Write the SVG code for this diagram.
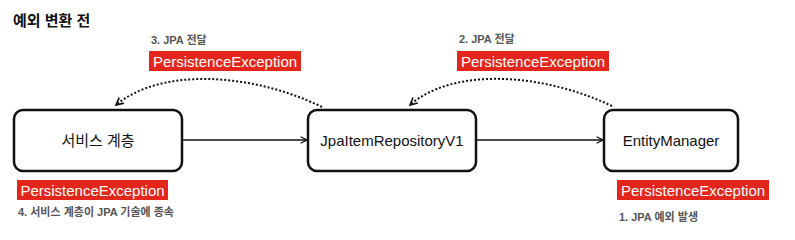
<svg xmlns="http://www.w3.org/2000/svg" width="795" height="240" viewBox="0 0 795 240">
<defs>
<style>
.box{fill:#fff;stroke:#111;stroke-width:2.5}
.lbl{font-family:"Liberation Sans","Noto Sans CJK KR",sans-serif;font-size:15px;fill:#111;text-anchor:middle;dominant-baseline:central}
.exc rect{fill:#e2261c}
.exc text{font-family:"Liberation Sans",sans-serif;font-size:15px;fill:#fff;text-anchor:middle;dominant-baseline:central}
.note{font-family:"Liberation Sans","Noto Sans CJK KR",sans-serif;font-size:11px;font-weight:bold;fill:#555}
.line{fill:none;stroke:#111;stroke-width:1.6}
.dot{fill:none;stroke:#111;stroke-width:2;stroke-dasharray:2 2}
</style>
<marker id="ah" viewBox="0 0 10 10" refX="9" refY="5" markerWidth="8" markerHeight="8" markerUnits="userSpaceOnUse" orient="auto">
<path d="M1,1 L9,5 L1,9" fill="none" stroke="#111" stroke-width="1.6"/>
</marker>
<marker id="ah2" viewBox="0 0 10 10" refX="9" refY="5" markerWidth="9" markerHeight="9" markerUnits="userSpaceOnUse" orient="auto">
<path d="M1,1 L9,5 L1,9" fill="none" stroke="#111" stroke-width="1.8"/>
</marker>
</defs>
<rect width="795" height="240" fill="#fff"/>
<text x="13" y="26" font-family="'Liberation Sans','Noto Sans CJK KR',sans-serif" font-size="15" font-weight="bold" fill="#111">예외 변환 전</text>

<g id="connectors">
<line class="line" x1="182" y1="140" x2="307" y2="140" marker-end="url(#ah)"/>
<line class="line" x1="476" y1="140" x2="603" y2="140" marker-end="url(#ah)"/>
<path class="dot" d="M322,107 C250,72 160,68 116,105" marker-end="url(#ah2)"/>
<path class="dot" d="M612,106 C540,72 452,68 410,105" marker-end="url(#ah2)"/>
</g>

<g id="node-service">
<rect class="box" x="14" y="110" width="168" height="61" rx="9"/>
<text class="lbl" x="98" y="140">서비스 계층</text>
</g>
<g id="node-repo">
<rect class="box" x="308" y="110" width="168" height="61" rx="9"/>
<text class="lbl" x="392" y="140">JpaItemRepositoryV1</text>
</g>
<g id="node-em">
<rect class="box" x="604" y="110" width="134" height="61" rx="9"/>
<text class="lbl" x="671" y="140">EntityManager</text>
</g>

<g id="exc-3" class="exc">
<rect x="149" y="51" width="152" height="20"/>
<text x="225" y="61">PersistenceException</text>
</g>
<g id="exc-2" class="exc">
<rect x="457" y="51" width="152" height="20"/>
<text x="533" y="61">PersistenceException</text>
</g>
<g id="exc-4" class="exc">
<rect x="17" y="180" width="151" height="20"/>
<text x="92.5" y="190">PersistenceException</text>
</g>
<g id="exc-1" class="exc">
<rect x="617" y="180" width="152" height="20"/>
<text x="693" y="190">PersistenceException</text>
</g>

<text class="note" x="151" y="44">3. JPA 전달</text>
<text class="note" x="459" y="43">2. JPA 전달</text>
<text class="note" x="18" y="216">4. 서비스 계층이 JPA 기술에 종속</text>
<text class="note" x="619" y="221">1. JPA 예외 발생</text>
</svg>
